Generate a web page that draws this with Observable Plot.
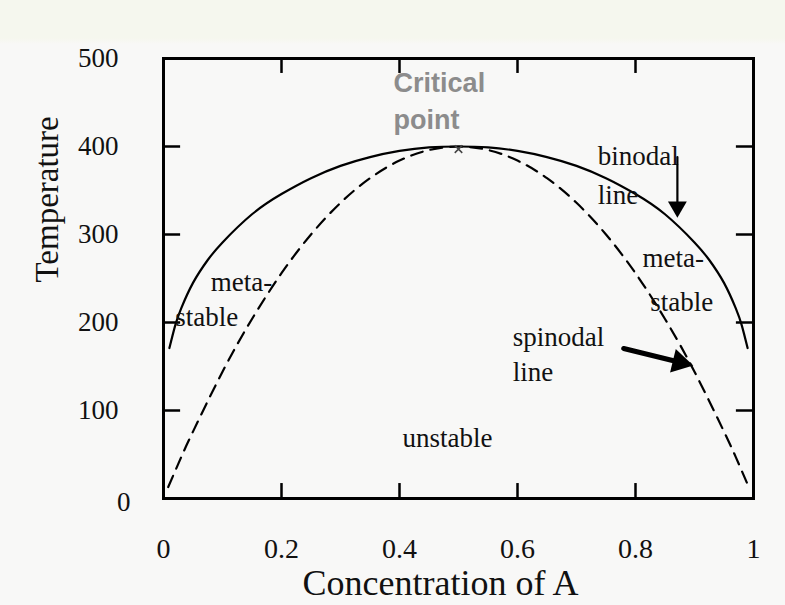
<!DOCTYPE html>
<html><head><meta charset="utf-8">
<script src="https://cdn.jsdelivr.net/npm/d3@7"></script>
<script src="https://cdn.jsdelivr.net/npm/@observablehq/plot@0.6"></script>
<style>
html,body{margin:0;padding:0;}
body{width:785px;height:605px;overflow:hidden;background:linear-gradient(#f5f7ee 0,#f5f7ee 38px,#f8f8f7 44px);}
#chart svg{display:block;}
</style></head><body><div id="chart"></div>
<script>
// Binodal (solid) curve
const binodalC = [0.01,0.02,0.03,0.05,0.075,0.1,0.15,0.2,0.25,0.3,0.35,0.4,0.45,0.5,0.55,0.6,0.65,0.7,0.75,0.8,0.85,0.9,0.925,0.95,0.97,0.98,0.99];
const binodalT = [171,197,216,245,271,291,323,346,364,378,388,395,399,400,399,395,388,378,364,346,323,291,271,245,216,197,171];
// Spinodal (dashed) curve
const spinodalC = [0.008,0.03,0.05,0.1,0.15,0.2,0.25,0.3,0.35,0.4,0.45,0.5,0.55,0.6,0.65,0.7,0.75,0.8,0.85,0.9,0.95,0.97,0.992];
const spinodalT = [13,47,76,144,204,256,300,336,364,384,396,400,396,384,364,336,300,256,204,144,76,47,13];
// Axis ticks
const xTicks = [0,0.2,0.4,0.6,0.8,1];
const xTickLabels = ["0","0.2","0.4","0.6","0.8","1"];
const yTicks = [0,100,200,300,400,500];
// Critical point
const critC = [0.5];
const critT = [397];
const critText = ["Critical","point"];
const critTextC = [0.39,0.39];
const critTextT = [472,429.5];
// Annotations
const labelText = ["binodal","line","meta-","stable","meta-","stable","spinodal","line","unstable"];
const labelC = [0.736,0.736,0.812,0.825,0.080,0.020,0.592,0.592,0.405];
const labelT = [389,344,273,223,246,206,183,143,68];
// Arrows: [tail c, tail T, tip c, tip T]
const binodalArrow = [0.871,388,0.871,319];
const spinodalArrow = [0.780,170.5,0.898,151];

const binodal = binodalC.map((c,i)=>({c,T:binodalT[i]}));
const spinodal = spinodalC.map((c,i)=>({c,T:spinodalT[i]}));
const labels = labelText.map((t,i)=>({t,c:labelC[i],T:labelT[i]}));
const crit = critC.map((c,i)=>({c,T:critT[i]}));
const critLabels = critText.map((t,i)=>({t,c:critTextC[i],T:critTextT[i]}));
const arrow = a => [{x1:a[0],y1:a[1],x2:a[2],y2:a[3]}];
const innerX = xTicks.slice(1,-1), innerY = yTicks.slice(1,-1);
const xFmt = d => xTickLabels[xTicks.indexOf(d)];

const serif = "'Liberation Serif','Times New Roman',serif";
const chart = Plot.plot({
  width:785, height:605,
  marginLeft:163, marginRight:32, marginTop:58, marginBottom:107,
  style:{background:"transparent", fontFamily:serif, fontSize:"27px", color:"#111"},
  x:{domain:[0,1]},
  y:{domain:[0,500]},
  marks:[
    Plot.ruleX(innerX,{y1:0,y2:17,stroke:"#000",strokeWidth:2.5}),
    Plot.ruleX(innerX,{y1:500,y2:483,stroke:"#000",strokeWidth:2.5}),
    Plot.ruleY(innerY,{x1:0,x2:0.029,stroke:"#000",strokeWidth:2.5}),
    Plot.ruleY(innerY,{x1:1,x2:0.971,stroke:"#000",strokeWidth:2.5}),
    Plot.frame({stroke:"#000",strokeWidth:3}),
    Plot.axisX(xTicks,{tickSize:0,tickPadding:40,label:null,fontSize:28,tickFormat:xFmt}),
    Plot.axisY(yTicks.slice(1),{tickSize:0,tickPadding:45,label:null,fontSize:27}),
    Plot.axisY([yTicks[0]],{tickSize:0,tickPadding:45,label:null,fontSize:27,dx:12,dy:4}),
    Plot.line(binodal,{x:"c",y:"T",curve:"natural",stroke:"#000",strokeWidth:2.2}),
    Plot.line(spinodal,{x:"c",y:"T",curve:"natural",stroke:"#000",strokeWidth:2.2,strokeDasharray:"12,8"}),
    Plot.dot(crit,{x:"c",y:"T",symbol:"times",r:3.5,stroke:"#444",strokeWidth:1.5}),
    Plot.text(critLabels,{x:"c",y:"T",text:"t",textAnchor:"start",fontFamily:"'Liberation Sans',Arial,sans-serif",fontWeight:"bold",fontSize:27,fill:"#8c8c8c"}),
    Plot.text(labels,{x:"c",y:"T",text:"t",textAnchor:"start",fontSize:27,fill:"#111"}),
    Plot.arrow(arrow(binodalArrow),{x1:"x1",y1:"y1",x2:"x2",y2:"y2",headLength:0,insetEnd:9,stroke:"#000",strokeWidth:2.2}),
    Plot.dot([{c:binodalArrow[2],T:binodalArrow[3]}],{x:"c",y:"T",symbol:"triangle",r:7,rotate:180,dy:-10.9,fill:"#000",stroke:"none"}),
    Plot.arrow(arrow(spinodalArrow),{x1:"x1",y1:"y1",x2:"x2",y2:"y2",headLength:0,insetEnd:13,stroke:"#000",strokeWidth:5}),
    Plot.dot([{c:spinodalArrow[2],T:spinodalArrow[3]}],{x:"c",y:"T",symbol:"triangle",r:9,rotate:103.65,dx:-13.6,dy:-3.3,fill:"#000",stroke:"none"}),
    Plot.text(["Temperature"],{frameAnchor:"left",rotate:-90,dx:-116,dy:4,fontSize:33,fill:"#111"}),
    Plot.text(["Concentration of A"],{frameAnchor:"bottom",lineAnchor:"middle",dx:-18,dy:85,fontSize:36,fill:"#111"})
  ]
});
document.getElementById("chart").appendChild(chart);
</script></body></html>
